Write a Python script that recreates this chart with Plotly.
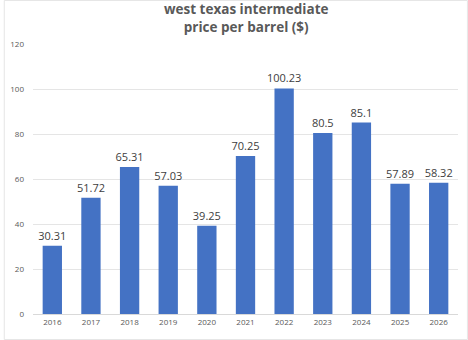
import plotly.graph_objects as go

years = ["2016", "2017", "2018", "2019", "2020", "2021", "2022", "2023", "2024", "2025", "2026"]
prices = [30.31, 51.72, 65.31, 57.03, 39.25, 70.25, 100.23, 80.5, 85.1, 57.89, 58.32]
price_labels = ["30.31", "51.72", "65.31", "57.03", "39.25", "70.25", "100.23", "80.5", "85.1", "57.89", "58.32"]
y_ticks = [0, 20, 40, 60, 80, 100, 120]
title_lines = ["west texas intermediate", "price per barrel ($)"]

fig = go.Figure(
    go.Bar(
        x=years,
        y=prices,
        text=price_labels,
        textposition="outside",
        constraintext="none",
        cliponaxis=False,
        textfont=dict(family="Open Sans", size=11, color="#404040"),
        marker=dict(color="#4472C4", line=dict(width=0)),
    )
)

fig.update_layout(
    width=468,
    height=340,
    margin=dict(l=29, r=10, t=44, b=26),
    paper_bgcolor="white",
    plot_bgcolor="white",
    bargap=0.5,
    showlegend=False,
    font=dict(family="Open Sans", size=8, color="#595959"),
    xaxis=dict(
        type="category",
        showgrid=False,
        showline=True,
        linecolor="#D9D9D9",
        linewidth=1,
        ticks="",
        tickfont=dict(size=8, color="#595959"),
    ),
    yaxis=dict(
        range=[0, 120],
        tickvals=y_ticks,
        showgrid=True,
        gridcolor="#E5E5E5",
        gridwidth=1,
        zeroline=False,
        showline=False,
        ticks="",
        ticklabelstandoff=8,
        tickfont=dict(size=8, color="#595959"),
    ),
    annotations=[
        dict(
            text="<b>" + "<br>".join(title_lines) + "</b>",
            xref="paper", yref="paper",
            x=0.5, y=1, xanchor="center", yanchor="bottom",
            yshift=6,
            showarrow=False,
            align="center",
            font=dict(family="Open Sans", size=13.5, color="#595959"),
        )
    ],
    shapes=[
        dict(type="rect", xref="paper", yref="paper",
             x0=-29 / 429, x1=1 + 9.5 / 429, y0=-25.5 / 270, y1=1 + 43.5 / 270,
             line=dict(width=1, color="#E6E6E6")),
    ],
)

fig.write_html("out.html")
